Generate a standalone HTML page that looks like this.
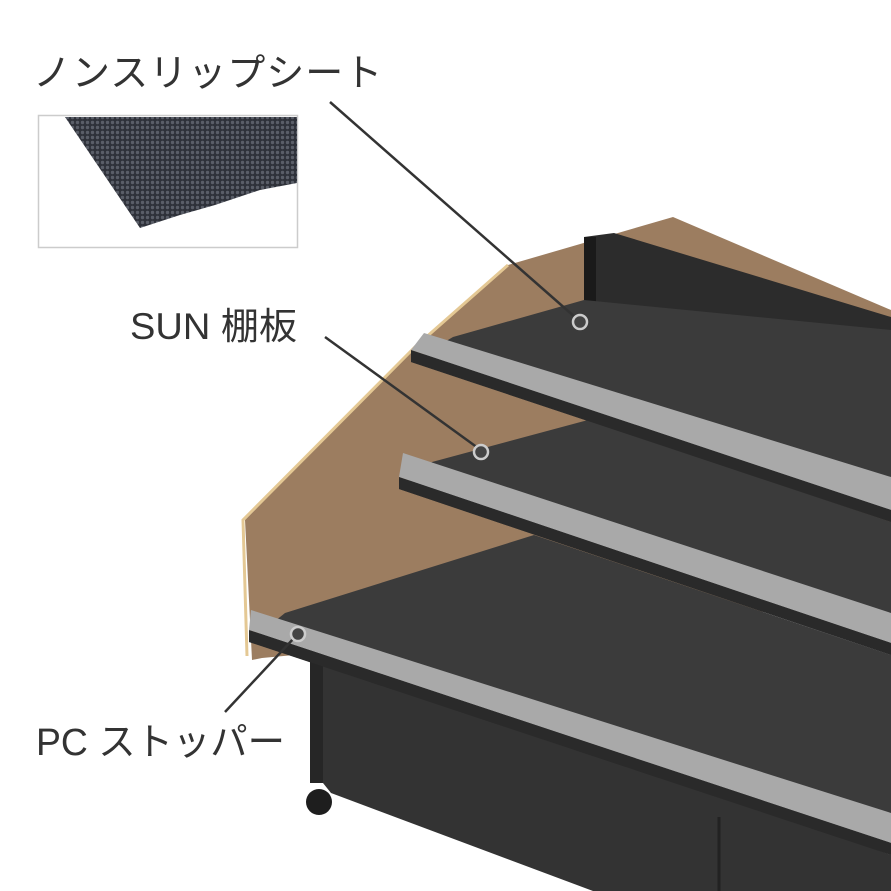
<!DOCTYPE html>
<html><head><meta charset="utf-8"><style>
html,body{margin:0;padding:0;background:#fff}
svg{display:block}
text{font-family:"Liberation Sans","Noto Sans CJK JP",sans-serif;fill:#333}
</style></head><body>
<svg width="891" height="891" viewBox="0 0 891 891" xmlns="http://www.w3.org/2000/svg">
<defs>
<pattern id="dots" width="5" height="5" patternUnits="userSpaceOnUse">
<rect width="5" height="5" fill="#2e3139"/>
<circle cx="2.5" cy="2.5" r="1.7" fill="#5a5e68"/>
</pattern>
</defs>
<!-- inset -->
<rect x="38.5" y="115.5" width="259" height="132" fill="#fff" stroke="#ccc" stroke-width="1.5"/>
<polygon points="65,117 297,117 297,183 260,190 215,205 180,215 140,228" fill="url(#dots)"/>
<!-- wood side -->
<polygon points="673,217 891,310 891,600 262,658 252,660 245,520 415,347 508,265" fill="#9c7d60"/>
<polyline points="508,265 415,347 243,520 247,656" fill="none" stroke="#e4c894" stroke-width="3"/>
<!-- back panel -->
<polygon points="584,237 614,233 891,317 891,340 584,300" fill="#2c2c2c"/>
<rect x="584" y="237" width="12" height="65" fill="#1a1a1a"/>
<!-- dark surfaces -->
<polygon points="453,337 584,300 891,330 891,522 411,362" fill="#3b3b3b"/>
<polygon points="432,462 588,420 891,522 891,655 399,489" fill="#3b3b3b"/>
<polygon points="285,613 534,535 891,655 891,855 249,642" fill="#3b3b3b"/>
<!-- cabinet -->
<polygon points="310,648 891,855 891,891 593,891 331,793 323,783 310,783" fill="#333"/>
<rect x="310" y="650" width="13" height="133" fill="#262626"/>
<line x1="719" y1="817" x2="719" y2="891" stroke="#222" stroke-width="3"/>
<circle cx="319" cy="802" r="13" fill="#1e1e1e"/>
<!-- stoppers -->
<polygon points="424,333 891,477 891,510 411,350" fill="#a9a9a9"/>
<polygon points="411,350 891,510 891,522 411,362" fill="#2a2a2a"/>
<polygon points="403,453 891,613 891,643 399,477" fill="#a9a9a9"/>
<polygon points="399,477 891,643 891,655 399,489" fill="#2a2a2a"/>
<polygon points="251,610 891,813 891,843 249,630" fill="#a9a9a9"/>
<polygon points="249,630 891,843 891,855 249,642" fill="#2a2a2a"/>
<!-- callouts -->
<g stroke="#333" stroke-width="2.5" fill="none">
<line x1="330" y1="102" x2="576" y2="318"/>
<line x1="325" y1="337" x2="478" y2="448"/>
<line x1="225" y1="712" x2="294" y2="638"/>
</g>
<g fill="#444" stroke="#ccc" stroke-width="2.5">
<circle cx="580" cy="322" r="7"/>
<circle cx="481" cy="452" r="7"/>
<circle cx="298" cy="634" r="7"/>
</g>
<text x="33" y="86" font-size="38" letter-spacing="1">ノンスリップシート</text>
<text x="130" y="339" font-size="37" textLength="167" lengthAdjust="spacingAndGlyphs">SUN 棚板</text>
<text x="36" y="755" font-size="38" textLength="249" lengthAdjust="spacingAndGlyphs">PC ストッパー</text>
</svg>
</body></html>
